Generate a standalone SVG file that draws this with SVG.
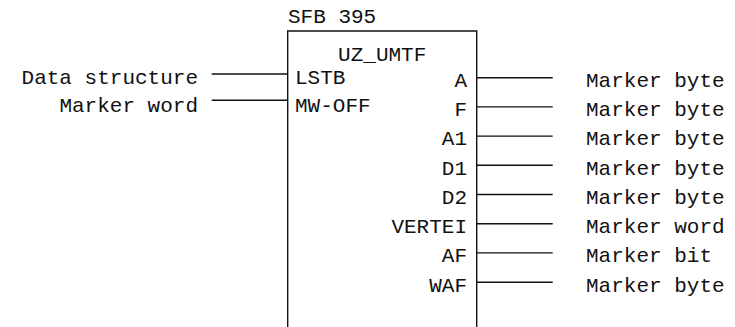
<svg xmlns="http://www.w3.org/2000/svg" width="735" height="327" viewBox="0 0 735 327">
<style>
text{font-family:"Liberation Mono","Courier New",monospace;font-size:21px;fill:#111}
.r{text-anchor:end}
.m{text-anchor:middle}
.ln{stroke:#111;stroke-width:1.4;fill:none}
</style>
<rect width="735" height="327" fill="#fff"/>
<g id="sfb395">
<text x="288" y="22.5">SFB 395</text>
<path class="ln" d="M287.7,327 V31 H476.7 V327"/>
<text class="m" x="382.2" y="61">UZ_UMTF</text>
<text x="295" y="83.5">LSTB</text>
<text x="295" y="111.5">MW-OFF</text>
<text class="r" x="467" y="87">A</text>
<text class="r" x="467" y="116">F</text>
<text class="r" x="467" y="145">A1</text>
<text class="r" x="467" y="174.5">D1</text>
<text class="r" x="467" y="203.5">D2</text>
<text class="r" x="467" y="232.5">VERTEI</text>
<text class="r" x="467" y="262">AF</text>
<text class="r" x="467" y="291.5">WAF</text>
</g>
<g id="inputs">
<text class="r" x="198" y="83.5">Data structure</text>
<text class="r" x="198" y="111.5">Marker word</text>
</g>
<g id="outputs">
<text x="586" y="87">Marker byte</text>
<text x="586" y="116">Marker byte</text>
<text x="586" y="145">Marker byte</text>
<text x="586" y="174.5">Marker byte</text>
<text x="586" y="203.5">Marker byte</text>
<text x="586" y="232.5">Marker word</text>
<text x="586" y="262">Marker bit</text>
<text x="586" y="291.5">Marker byte</text>
</g>
<g id="connectors" class="ln">
<path class="ln" d="M211.7,74 H287.7 M211.7,100.3 H287.7"/>
<path class="ln" d="M476.7,77.7 H552.7 M476.7,106.9 H552.7 M476.7,136.1 H552.7 M476.7,165.3 H552.7 M476.7,194.5 H552.7 M476.7,223.7 H552.7 M476.7,252.9 H552.7 M476.7,282.3 H552.7"/>
</g>
</svg>
